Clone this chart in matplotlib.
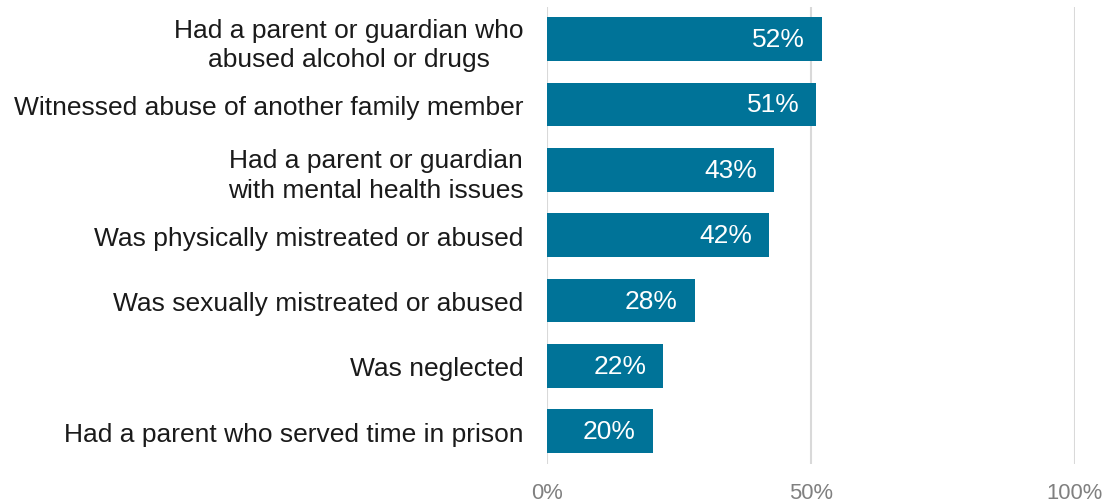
import matplotlib.pyplot as plt

categories = [
    "Had a parent or guardian who\nabused alcohol or drugs",
    "Witnessed abuse of another family member",
    "Had a parent or guardian\nwith mental health issues",
    "Was physically mistreated or abused",
    "Was sexually mistreated or abused",
    "Was neglected",
    "Had a parent who served time in prison",
]
values = [52, 51, 43, 42, 28, 22, 20]
tick_values = [0, 50, 100]
tick_labels = ["0%", "50%", "100%"]

plt.rcParams['font.family'] = ['Liberation Sans', 'DejaVu Sans']

fig = plt.figure(figsize=(11.04, 5.02), dpi=100)
ax = fig.add_axes([547 / 1104, 1 - 465 / 502, 528 / 1104, 457 / 502])

pos = list(range(len(categories)))
ax.barh(pos, values, height=0.67, color='#007398', zorder=3)

# value labels inside the bar ends
for p, v in zip(pos, values):
    ax.text(v - 3.2, p, f"{v}%", color='white', fontsize=19,
            ha='right', va='center', zorder=4)

ax.set_xlim(0, 100)
ax.set_ylim(6.5, -0.49)
ax.set_xticks(tick_values)
ax.set_xticklabels(tick_labels, fontsize=15.8, color='#808080')
ax.set_yticks(pos)
ax.set_yticklabels(categories, fontsize=19, color='#1a1a1a')
for lbl in ax.get_yticklabels():
    lbl.set_multialignment('center')
    lbl.set_linespacing(1.28)

ax.tick_params(axis='x', length=0, pad=13)
ax.tick_params(axis='y', length=0, pad=17)
ax.grid(axis='x', color='#d9d9d9', linewidth=1.5, zorder=0)
for s in ax.spines.values():
    s.set_visible(False)

fig.savefig('out.png', dpi=100)
